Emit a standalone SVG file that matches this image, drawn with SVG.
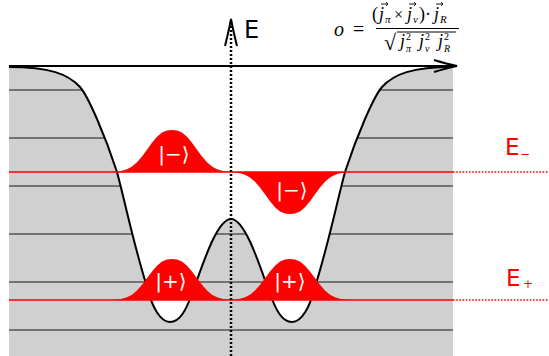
<svg xmlns="http://www.w3.org/2000/svg" width="549" height="356" viewBox="0 0 549 356">
<style>
.lvl{stroke:#555;stroke-width:1.3}
.red{stroke:#ff0000;stroke-width:1.6;fill:none}
.reddot{stroke:#ff0000;stroke-width:1.6;stroke-dasharray:1.6 1.6;fill:none}
.bump{fill:#ff0000}
.ket{font-family:"DejaVu Sans",sans-serif;font-size:20px;fill:#fff;text-anchor:middle}
.elab{font-family:"DejaVu Sans",sans-serif;fill:#ff0000}
.m{font-family:"Liberation Serif","DejaVu Serif",serif;font-style:italic;fill:#000}
.mr{font-family:"Liberation Serif","DejaVu Serif",serif;fill:#000}
.vec{fill:none;stroke:#000;stroke-width:0.9}
</style>
<defs>
<path id="bump" d="M-62,0 L-60,-0.15 L-55,-0.4 L-50,-1.2 L-45,-2.7 L-40,-5.4 L-35,-9.7 L-30,-15.5 L-25,-22.3 L-20,-29.2 L-15,-35.2 L-10,-39.4 L-5,-41.5 L0,-42 L5,-41.5 L10,-39.4 L15,-35.2 L20,-29.2 L25,-22.3 L30,-15.5 L35,-9.7 L40,-5.4 L45,-2.7 L50,-1.2 L55,-0.4 L60,-0.15 L62,0 Z"/>
<path id="vecarrow" class="vec" d="M0,0 L7,0 M5,-2 L7,0 L5,2"/>
</defs>
<rect width="549" height="356" fill="#fff"/>
<g id="background">
<rect x="9" y="66" width="444" height="290" fill="#d0d0d0"/>
<line class="lvl" x1="9" y1="90" x2="453" y2="90"/>
<line class="lvl" x1="9" y1="138" x2="453" y2="138"/>
<line class="lvl" x1="9" y1="186" x2="453" y2="186"/>
<line class="lvl" x1="9" y1="234" x2="453" y2="234"/>
<line class="lvl" x1="9" y1="282" x2="453" y2="282"/>
<line class="lvl" x1="9" y1="330" x2="453" y2="330"/>
<path id="well" fill="#fff" d="M9,66 L9,67 C50,67 68,74 80,87 C88,96 105,135 117,172 C127,210 135,250 148,290 C152,306 160,322 170,322 C180,322 186,310 192,294 C200,273 216,219 231,219 C246,219 262,273 270,294 C276,310 282,322 292,322 C302,322 310,306 314,290 C327,250 335,210 345,172 C357,135 374,96 382,87 C394,74 412,67 453,67 L453,66 Z"/>
</g>
<g id="potential">
<path fill="none" stroke="#000" stroke-width="2" d="M9,67 C50,67 68,74 80,87 C88,96 105,135 117,172 C127,210 135,250 148,290 C152,306 160,322 170,322 C180,322 186,310 192,294 C200,273 216,219 231,219 C246,219 262,273 270,294 C276,310 282,322 292,322 C302,322 310,306 314,290 C327,250 335,210 345,172 C357,135 374,96 382,87 C394,74 412,67 453,67"/>
</g>
<g id="state-minus">
<use href="#bump" class="bump" transform="translate(172,172)"/>
<use href="#bump" class="bump" transform="translate(290,172) scale(1,-1)"/>
<line class="red" x1="9" y1="172" x2="453" y2="172"/>
<line class="reddot" x1="453" y1="172" x2="549" y2="172"/>
<text class="ket" x="174" y="161">|−⟩</text>
<text class="ket" x="292" y="197">|−⟩</text>
<text class="elab" x="505" y="155" font-size="23">E<tspan x="520" y="158" font-size="12">−</tspan></text>
</g>
<g id="state-plus">
<use href="#bump" class="bump" transform="translate(172,300) scale(1,0.976)"/>
<use href="#bump" class="bump" transform="translate(290,300) scale(1,0.976)"/>
<line class="red" x1="9" y1="300" x2="453" y2="300"/>
<line class="reddot" x1="453" y1="300" x2="549" y2="300"/>
<text class="ket" x="171" y="288">|+⟩</text>
<text class="ket" x="290" y="288">|+⟩</text>
<text class="elab" x="506" y="286" font-size="23">E<tspan x="523" y="288" font-size="12">+</tspan></text>
</g>
<g id="connectors">
<line x1="9" y1="66" x2="455" y2="66" stroke="#000" stroke-width="2"/>
<path d="M434,60 Q447,64 457,66 Q447,68 434,72" fill="none" stroke="#000" stroke-width="2"/>
<line x1="231" y1="22" x2="231" y2="356" stroke="#000" stroke-width="2.5" stroke-dasharray="2 2"/>
<path d="M225,46 Q229,30 231,19 Q233,30 237,46" fill="none" stroke="#000" stroke-width="2"/>
</g>
<g id="labels">
<text x="244" y="38" font-family="DejaVu Sans,sans-serif" font-size="24" fill="#000">E</text>
<text class="m" x="334" y="36" font-size="20">o</text>
<text class="mr" x="353" y="36" font-size="20">=</text>
<text class="mr" x="372" y="20" font-size="18">(</text>
<text class="m" x="379" y="20" font-size="18">j</text>
<use href="#vecarrow" x="381" y="4"/>
<text class="m" x="385" y="23" font-size="11">π</text>
<text class="mr" x="394" y="20" font-size="16">×</text>
<text class="m" x="407" y="20" font-size="18">j</text>
<use href="#vecarrow" x="409" y="4"/>
<text class="m" x="413" y="23" font-size="11">ν</text>
<text class="mr" x="419" y="20" font-size="18">)·</text>
<text class="m" x="434" y="20" font-size="18">j</text>
<use href="#vecarrow" x="436" y="4"/>
<text class="m" x="440" y="23" font-size="11">R</text>
<line x1="376" y1="28.5" x2="459" y2="28.5" stroke="#000" stroke-width="1"/>
<text class="mr" x="384" y="50" font-size="22">√</text>
<line x1="397" y1="32" x2="456" y2="32" stroke="#000" stroke-width="1"/>
<text class="m" x="400" y="47" font-size="18">j</text>
<text class="mr" x="406" y="40" font-size="10">2</text>
<text class="m" x="406" y="52" font-size="10">π</text>
<text class="m" x="419" y="47" font-size="18">j</text>
<text class="mr" x="425" y="40" font-size="10">2</text>
<text class="m" x="425" y="52" font-size="10">ν</text>
<text class="m" x="438" y="47" font-size="18">j</text>
<text class="mr" x="444" y="40" font-size="10">2</text>
<text class="m" x="444" y="52" font-size="10">R</text>
</g>
</svg>
